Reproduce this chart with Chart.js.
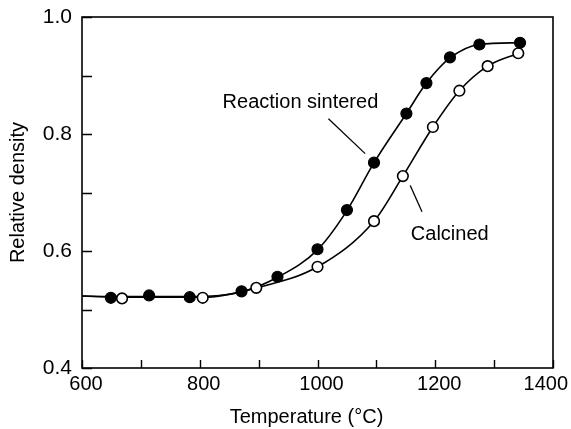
<!DOCTYPE html>
<html>
<head>
<meta charset="utf-8">
<script src="https://cdn.jsdelivr.net/npm/chart.js@4.4.1/dist/chart.umd.min.js"></script>
<style>
html,body{margin:0;padding:0;background:#fff;}
canvas{display:block;}
</style>
</head>
<body>
<canvas id="c" width="571" height="429" style="width:571px;height:429px"></canvas>
<script>
// ---- data ----
const rsTemps = [649, 714, 783, 871, 932, 1000, 1050, 1096, 1151, 1185, 1225, 1275, 1344];
const rsDensity = [0.520, 0.524, 0.521, 0.531, 0.556, 0.603, 0.670, 0.751, 0.835, 0.887, 0.931, 0.953, 0.956];
const calTemps = [668, 805, 896, 1000, 1096, 1145, 1196, 1241, 1289, 1341];
const calDensity = [0.519, 0.520, 0.537, 0.573, 0.651, 0.728, 0.812, 0.874, 0.916, 0.938];
// fitted curves (smooth lines)
const rsCurveTemps = [600, 649, 714, 783, 871, 932, 1000, 1050, 1096, 1151, 1185, 1225, 1275, 1344];
const rsCurveDensity = [0.523, 0.522, 0.522, 0.522, 0.530, 0.555, 0.602, 0.669, 0.751, 0.835, 0.887, 0.930, 0.953, 0.956];
const calCurveTemps = [600, 668, 805, 896, 1000, 1096, 1145, 1196, 1241, 1289, 1341];
const calCurveDensity = [0.523, 0.521, 0.521, 0.537, 0.573, 0.651, 0.728, 0.812, 0.874, 0.916, 0.938];
const xTickLabels = [600, 800, 1000, 1200, 1400];
const yTickLabels = ['0.4', '0.6', '0.8', '1.0'];
const xTitle = 'Temperature (°C)';
const yTitle = 'Relative density';

const FONT = '"Liberation Sans", Arial, Helvetica, sans-serif';
const toXY = (xs, ys) => xs.map((x, i) => ({x: x, y: ys[i]}));

// annotation texts and leader lines (data coordinates)
const labels = [
  {text: 'Reaction sintered', x: 971, y: 0.8450, line: [[1018.6, 0.826], [1081, 0.7665]]},
  {text: 'Calcined', x: 1224.6, y: 0.6195, line: [[1157.5, 0.712], [1177.5, 0.667]]}
];

const framePlugin = {
  id: 'frame',
  afterDatasetsDraw(chart) {
    const ctx = chart.ctx, a = chart.chartArea;
    const xs = chart.scales.x, ys = chart.scales.y;
    ctx.save();
    ctx.strokeStyle = '#000';
    ctx.lineWidth = 1.6;
    ctx.strokeRect(a.left, a.top, a.right - a.left, a.bottom - a.top);
    ctx.lineWidth = 1.4;
    ctx.beginPath();
    xs.ticks.forEach(t => {
      const px = Math.round(xs.getPixelForValue(t.value)) + 0.5;
      ctx.moveTo(px, a.bottom);
      ctx.lineTo(px, a.bottom - 8);
    });
    ys.ticks.forEach(t => {
      const py = Math.round(ys.getPixelForValue(t.value)) + 0.5;
      ctx.moveTo(a.left, py);
      ctx.lineTo(a.left + 10, py);
    });
    ctx.stroke();
    ctx.fillStyle = '#000';
    // x tick labels (kept inside the canvas)
    ctx.font = '20px ' + FONT;
    ctx.textBaseline = 'top';
    ctx.textAlign = 'center';
    xTickLabels.forEach(v => {
      const s = String(v);
      const w = ctx.measureText(s).width;
      let cx = xs.getPixelForValue(v) + 4;
      cx = Math.min(cx, chart.width - 3 - w / 2);
      ctx.fillText(s, cx, a.bottom + 6);
    });
    // x axis title
    ctx.textBaseline = 'middle';
    ctx.fillText(xTitle, (a.left + a.right) / 2 - 11, chart.height - 12);
    // annotations
    ctx.textBaseline = 'alphabetic';
    labels.forEach(l => {
      ctx.fillText(l.text, xs.getPixelForValue(l.x), ys.getPixelForValue(l.y));
      ctx.beginPath();
      ctx.lineWidth = 1.3;
      ctx.moveTo(xs.getPixelForValue(l.line[0][0]), ys.getPixelForValue(l.line[0][1]));
      ctx.lineTo(xs.getPixelForValue(l.line[1][0]), ys.getPixelForValue(l.line[1][1]));
      ctx.stroke();
    });
    ctx.restore();
  }
};

new Chart(document.getElementById('c'), {
  type: 'scatter',
  data: {
    datasets: [
      {label: 'Reaction sintered curve', data: toXY(rsCurveTemps, rsCurveDensity), showLine: true,
       borderColor: '#000', borderWidth: 1.6, pointRadius: 0, cubicInterpolationMode: 'monotone', order: 3},
      {label: 'Calcined curve', data: toXY(calCurveTemps, calCurveDensity), showLine: true,
       borderColor: '#000', borderWidth: 1.6, pointRadius: 0, cubicInterpolationMode: 'monotone', order: 3},
      {label: 'Reaction sintered', data: toXY(rsTemps, rsDensity), pointRadius: 5.5,
       backgroundColor: '#000', borderColor: '#000', borderWidth: 1.2, order: 1},
      {label: 'Calcined', data: toXY(calTemps, calDensity), pointRadius: 5.3,
       backgroundColor: '#fff', borderColor: '#000', borderWidth: 1.6, order: 1}
    ]
  },
  options: {
    responsive: false,
    animation: false,
    devicePixelRatio: 1,
    layout: {padding: {top: 17, right: 18, left: 0, bottom: 0}},
    plugins: {legend: {display: false}, tooltip: {enabled: false}},
    scales: {
      x: {
        type: 'linear', min: 600, max: 1400,
        grid: {display: false, drawTicks: false},
        border: {display: false},
        ticks: {
          stepSize: 100, autoSkip: false, maxRotation: 0, padding: 6, color: '#000',
          font: {size: 20, family: FONT},
          callback: () => ''
        },
        title: {display: false},
        afterFit(s) { s.height = 61; s.paddingLeft = 0; s.paddingRight = 0; }
      },
      y: {
        type: 'linear', min: 0.4, max: 1.0,
        grid: {display: false, drawTicks: false},
        border: {display: false},
        ticks: {
          stepSize: 0.1, autoSkip: false, padding: 10, color: '#000',
          font: {size: 21, family: FONT},
          callback: v => { const s = v.toFixed(1); return yTickLabels.includes(s) ? s : ''; }
        },
        title: {display: true, text: yTitle, color: '#000',
                font: {size: 20, family: FONT}, padding: {top: 6, bottom: 0}},
        afterFit(s) { s.width = 82; s.paddingTop = 0; s.paddingBottom = 0; }
      }
    }
  },
  plugins: [framePlugin]
});
</script>
</body>
</html>
